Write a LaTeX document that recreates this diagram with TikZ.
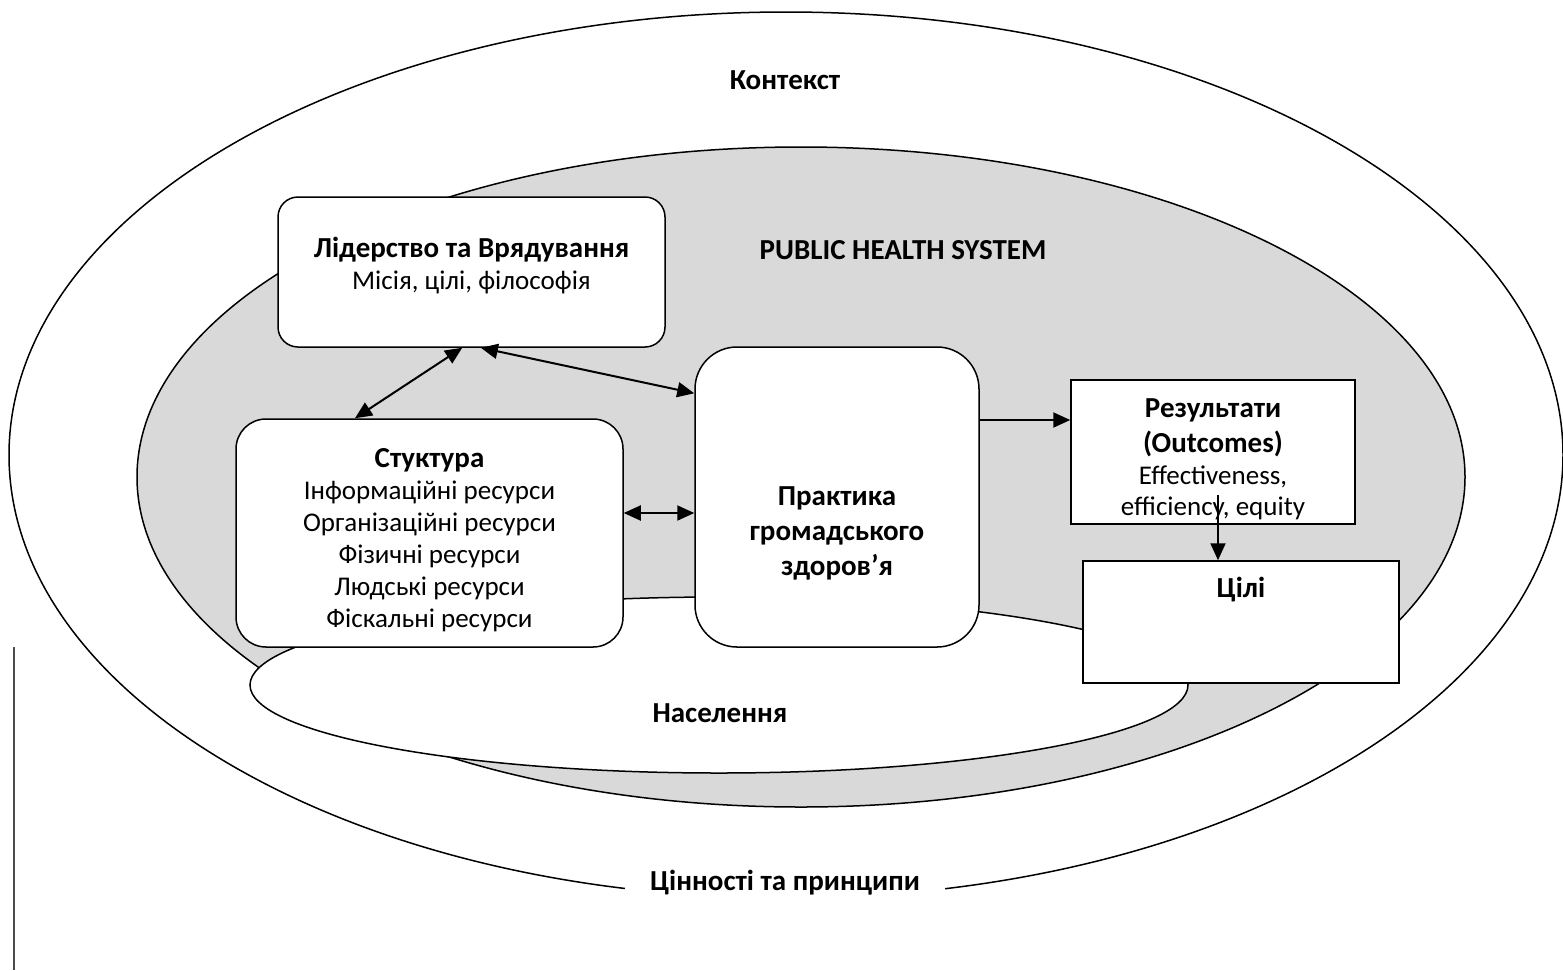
\documentclass[tikz,border=0pt]{standalone}
\usepackage{fontspec}
\setmainfont{Carlito}
\usetikzlibrary{arrows.meta,positioning}
\definecolor{sysgray}{HTML}{D9D9D9}
\newcommand{\hd}[1]{{\bfseries\fontsize{14.5}{16}\selectfont #1}}
\tikzset{
  box/.style={draw, line width=0.75pt, fill=white, inner sep=0pt},
  txt/.style={align=center, inner sep=0pt, font=\fontsize{13.5}{16}\selectfont},
  ttl/.style={align=center, font=\bfseries\fontsize{14.5}{17.5}\selectfont},
  ring/.style={draw, line width=0.75pt},
  arr/.style={line width=1pt, -{Triangle[length=8.5pt,width=7.5pt]}},
  dblarr/.style={line width=1pt, {Triangle[length=8.5pt,width=7.5pt]}-{Triangle[length=8.5pt,width=7.5pt]}},
}

\begin{document}
\begin{tikzpicture}[x=0.5pt, y=-0.5pt]
        \useasboundingbox (0,0) rectangle (1563,970);
        % ellipses
        \path[ring, fill=white] (786,455) ellipse [x radius=388.5pt, y radius=221.5pt];
        \path[ring, fill=sysgray] (801,477) ellipse [x radius=332pt, y radius=165pt];
        \path[ring, fill=white] (719,685) ellipse [x radius=234.5pt, y radius=44pt];
        % side rule
        \draw[gray!60!black, line width=0.75pt] (14,647) -- (14,970);
        % labels
        \node[ttl] (context) at (785,80) {Контекст};
        \node[ttl] (phs) at (903,250) {PUBLIC HEALTH SYSTEM};
        \node[ttl] (population) at (720,713) {Населення};
        \node[ttl, fill=white, minimum width=160pt, minimum height=22pt] (values) at (785,883) {Цінності та принципи};
        % boxes
        \node[box, rounded corners=10pt, minimum width=193.5pt, minimum height=75pt] (leader) at (471.5,272) {};
        \node[txt] (leadertext) at (471.5,266) {\hd{Лідерство та Врядування}\\Місія, цілі, філософія};
        \node[box, rounded corners=15pt, minimum width=193.5pt, minimum height=114pt] (structure) at (429.5,533) {};
        \node[txt] (structuretext) at (429.5,540)
          {\hd{Стуктура}\\Інформаційні ресурси\\Організаційні ресурси\\Фізичні ресурси\\Людські ресурси\\Фіскальні ресурси};
        \node[box, rounded corners=21pt, minimum width=142pt, minimum height=150pt] (practice) at (837,497) {};
        \node[ttl] (practicetext) at (837,533) {Практика\\громадського\\здоров’я};
        \node[box, minimum width=142pt, minimum height=72pt] (results) at (1213,452) {};
        \node[txt, font=\fontsize{13.5}{15.5}\selectfont] (resultstext) at (1213,459)
          {\hd{Результати}\\[2pt]\hd{(Outcomes)}\\[0.5pt]Effectiveness,\\efficiency, equity};
        \node[box, minimum width=158pt, minimum height=61pt] (goals) at (1241,622) {};
        \node[ttl] (goalstext) at (1241,590) {Цілі};
        % arrows
        \draw[dblarr] (leader.-97) -- (structure.123);
        \draw[dblarr] (leader.-83) -- (practice.144);
        \draw[dblarr] ([yshift=10pt]structure.east) -- ([yshift=10pt]structure.east -| practice.west);
        \draw[arr] ([yshift=16pt]results.west -| practice.east) -- ([yshift=16pt]results.west);
        \coordinate (rtail) at ([xshift=2.5pt,yshift=-21.5pt]results.center);
        \draw[arr] (rtail) -- (rtail |- goals.north);
\end{tikzpicture}
\end{document}
